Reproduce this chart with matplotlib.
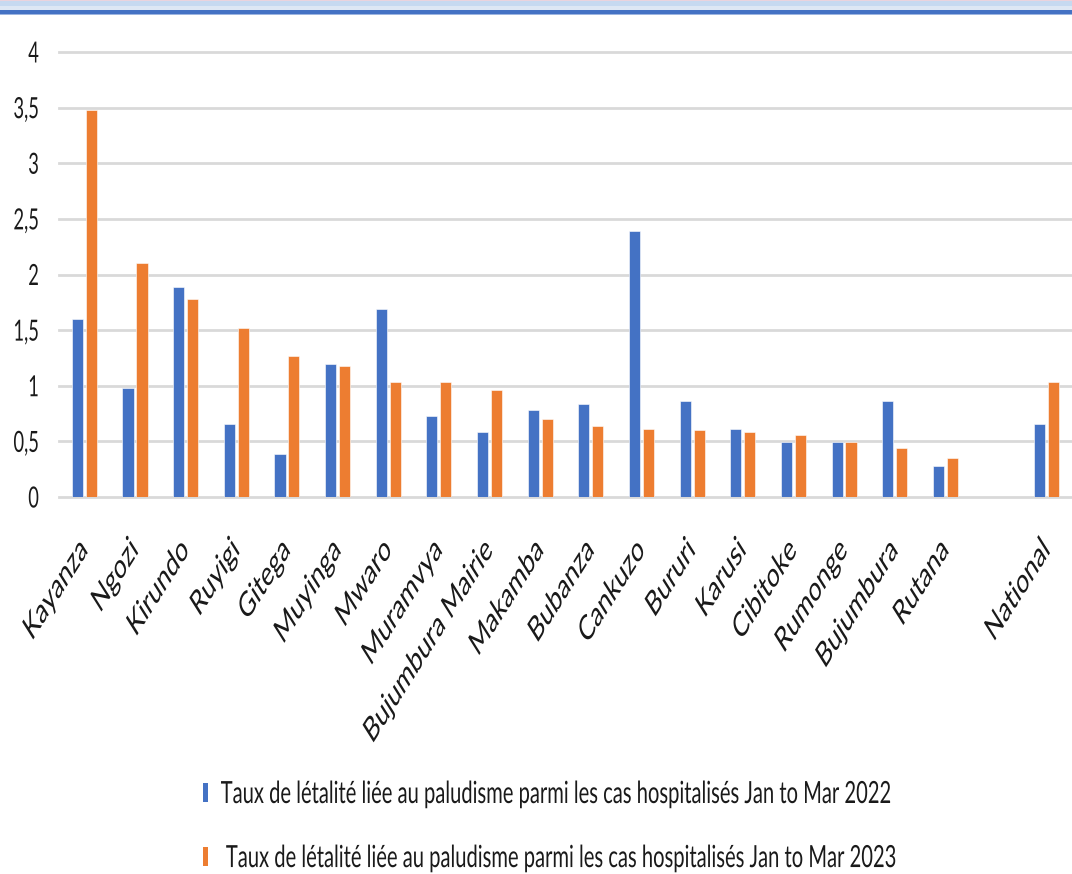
import numpy as np
import matplotlib
matplotlib.use("Agg")
import matplotlib.pyplot as plt
from matplotlib.patches import Rectangle, Patch
from matplotlib.patheffects import AbstractPathEffect
from matplotlib.transforms import Affine2D, Bbox
from matplotlib.ticker import FuncFormatter, MultipleLocator

# ---- data -------------------------------------------------------------
provinces = ["Kayanza", "Ngozi", "Kirundo", "Ruyigi", "Gitega", "Muyinga",
             "Mwaro", "Muramvya", "Bujumbura Mairie", "Makamba", "Bubanza",
             "Cankuzo", "Bururi", "Karusi", "Cibitoke", "Rumonge",
             "Bujumbura", "Rutana", "", "National"]
rate_2022 = [1.60, 0.98, 1.89, 0.66, 0.39, 1.20, 1.69, 0.73, 0.58, 0.78,
             0.84, 2.39, 0.86, 0.61, 0.49, 0.49, 0.86, 0.28, np.nan, 0.66]
rate_2023 = [3.48, 2.10, 1.78, 1.52, 1.27, 1.18, 1.03, 1.03, 0.96, 0.70,
             0.64, 0.61, 0.60, 0.58, 0.56, 0.49, 0.44, 0.35, np.nan, 1.03]
label_2022 = "Taux de létalité liée au paludisme parmi les cas hospitalisés Jan to Mar 2022"
label_2023 = " Taux de létalité liée au paludisme parmi les cas hospitalisés Jan to Mar 2023"

BLUE = "#4472c4"
ORANGE = "#ed7d31"
GRID = "#d9d9d9"
INK = "#1a1a1a"
SQUEEZE = 0.63

plt.rcParams["font.family"] = ["Lato", "DejaVu Sans"]


def _anchor_x(text):
    return text.get_transform().transform(text.get_unitless_position())[0]


class Squeeze(AbstractPathEffect):
    """Narrow the glyphs of a text horizontally around its anchor point."""

    def __init__(self, text, sx):
        super().__init__()
        self.text = text
        self.sx = sx

    def draw_path(self, renderer, gc, tpath, affine, rgbFace=None):
        px = _anchor_x(self.text)
        narrow = Affine2D().translate(-px, 0).scale(self.sx, 1).translate(px, 0)
        renderer.draw_path(gc, tpath, affine + narrow, rgbFace)


def condense(text, sx=SQUEEZE):
    """Draw a text narrowed by sx and report its narrowed extent."""
    text.set_path_effects([Squeeze(text, sx)])
    full_extent = text.get_window_extent

    def narrowed_extent(renderer=None, dpi=None):
        bb = full_extent(renderer, dpi)
        px = _anchor_x(text)
        return Bbox([[px + (bb.x0 - px) * sx, bb.y0],
                     [px + (bb.x1 - px) * sx, bb.y1]])

    text.get_window_extent = narrowed_extent


W, H = 1072, 874
fig = plt.figure(figsize=(W / 100, H / 100), dpi=100)


def band(y0, y1, color):
    fig.add_artist(Rectangle((0, 1 - y1 / H), 1, (y1 - y0) / H,
                             transform=fig.transFigure, color=color, lw=0))


# header band
band(0, 1.5, "#ead3dd")
band(1.5, 6, "#c6d9f0")
band(6, 10.5, "#dde7f4")
band(10.5, 13.5, "#4472c4")
band(13.5, 15, "#9db5e0")

ax = fig.add_axes([59 / W, 1 - 497 / H, 1 - 59 / W, (497 - 52) / H])

x = np.arange(len(provinces))
bw = 0.22
off = 0.138
ax.bar(x - off, rate_2022, bw, color=BLUE, edgecolor="white", linewidth=0.4,
       label=label_2022, zorder=3)
ax.bar(x + off, rate_2023, bw, color=ORANGE, edgecolor="white", linewidth=0.4,
       label=label_2023, zorder=3)

ax.set_xlim(-0.5, len(provinces) - 0.5)
ax.set_ylim(0, 4)
ax.yaxis.set_major_locator(MultipleLocator(0.5))
ax.yaxis.set_major_formatter(FuncFormatter(lambda v, p: f"{v:g}".replace(".", ",")))
ax.grid(axis="y", color=GRID, linewidth=2.0, zorder=0)
for gl in ax.get_ygridlines():
    gl.set_clip_on(False)
for s in ax.spines.values():
    s.set_visible(False)

ax.tick_params(axis="y", length=0, pad=14.5, labelsize=21, labelcolor=INK)
ax.tick_params(axis="x", length=0, pad=34, labelsize=25, labelcolor=INK)
ax.set_xticks(x)
ax.set_xticklabels(provinces, rotation=45, ha="right", va="center",
                   rotation_mode="anchor")

for t in ax.get_xticklabels() + ax.get_yticklabels():
    condense(t)

handles = [Patch(facecolor=BLUE), Patch(facecolor=ORANGE)]
leg = fig.legend(handles, [label_2022, label_2023], loc="upper left",
                 bbox_to_anchor=(203 / W, 1 - 780 / H), frameon=False,
                 fontsize=22, handlelength=0.16, handleheight=0.59,
                 handletextpad=0.42, labelspacing=1.18, borderpad=0,
                 borderaxespad=0)
for t in leg.get_texts():
    t.set_color(INK)
    condense(t, 0.66)

fig.savefig("out.png", dpi=100, facecolor="white")
